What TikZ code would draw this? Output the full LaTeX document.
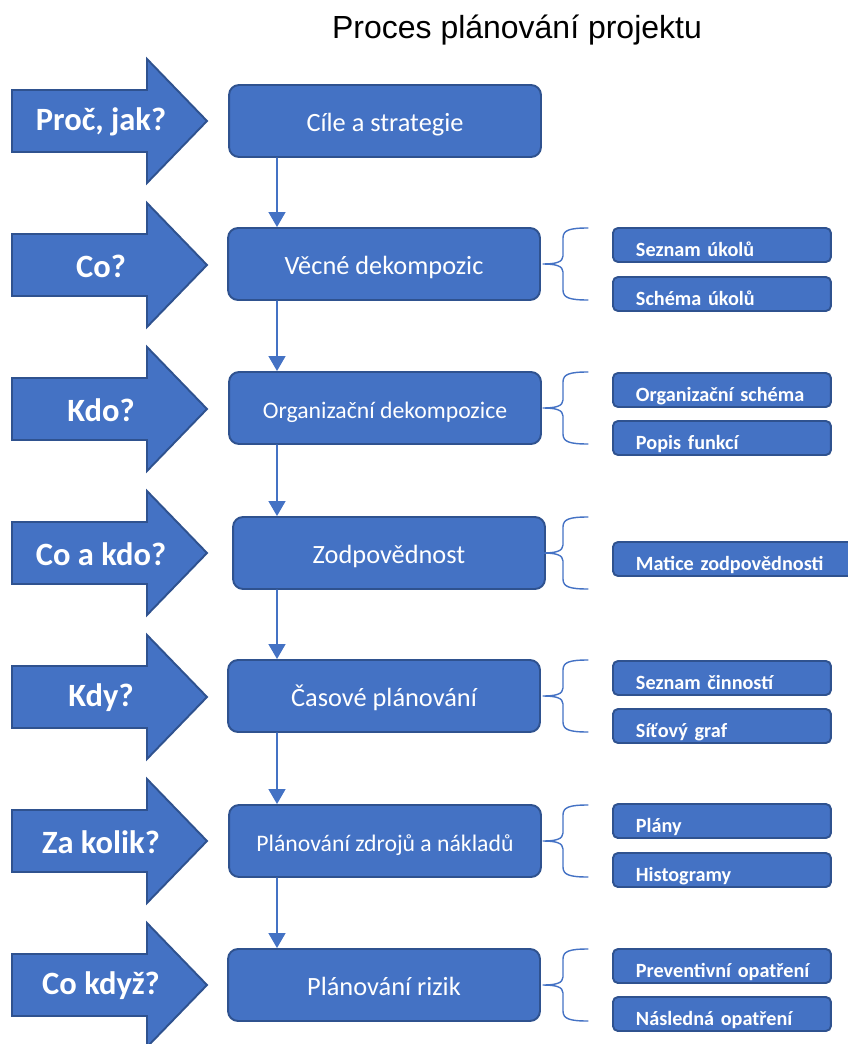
\documentclass[tikz,border=0pt]{standalone}
\usepackage{fontspec}
\setmainfont{Carlito}
\newfontfamily\titlefont{Liberation Sans}
\usepackage{xcolor}
\usetikzlibrary{arrows.meta}
\definecolor{ofblue}{HTML}{4472C4}
\definecolor{ofdark}{HTML}{2F528F}
\tikzset{
  every picture/.style={line join=round, line cap=round, >=Stealth},
  bigarrow/.style={fill=ofblue, draw=ofdark, line width=1.1pt, line join=miter},
  qtext/.style={text=white, font=\fontsize{18.5}{22}\selectfont\bfseries},
  mainbox/.style={draw=ofdark, fill=ofblue, line width=1.1pt, rounded corners=0.2cm,
    minimum width=6.24cm, minimum height=1.44cm, text=white, text height=12.5pt, text depth=0pt},
  subbox/.style={draw=ofdark, fill=ofblue, line width=1.1pt, rounded corners=0.1cm,
    minimum height=0.68cm, inner xsep=0.46cm, inner ysep=0pt, text width=3.44cm,
    align=left, text=white, text height=13.6pt, text depth=0pt,
    font=\fontsize{11.5}{13}\selectfont\bfseries, anchor=west},
  link/.style={draw=ofblue, line width=0.8pt, -{Triangle[length=3mm,width=3.4mm]}},
  brace/.style={draw=ofblue, line width=0.8pt},
}

\begin{document}
\begin{tikzpicture}[x=0.02cm,y=-0.02cm]
\useasboundingbox (0,0) rectangle (848,1044);
\node[font=\titlefont\fontsize{18.2}{22}\selectfont] (title) at (517,30) {Proces plánování projektu};
% question arrows
\foreach \i/\y/\t in {1/121/{Proč, jak?},2/265/Co?,3/409/Kdo?,4/553/Co a kdo?,5/697/Kdy?,6/841/Za kolik?,7/985/Co když?}{
\draw[bigarrow](12,\y-31)--(147,\y-31)--(147,\y-62)--(207,\y)--(147,\y+62)--(147,\y+31)--(12,\y+31)--cycle;
\node[qtext] (q\i) at (101,\y+1) {\t};
}
% steps
\foreach \i/\x/\y/\fs/\t in {1/385/121/15/Cíle a strategie,2/384/264/15/Věcné dekompozic,
  3/385/408/13.5/Organizační dekompozice,4/389/553/15/Zodpovědnost,5/384/696/15/Časové plánování,
  6/385/841/13.5/Plánování zdrojů a nákladů,7/384/985/15/Plánování rizik}
  \node[mainbox, font=\fontsize{\fs}{18}\selectfont] (b\i) at (\x,\y) {\t};
\coordinate (ax) at (277,0);
\foreach \i/\j in {1/2,2/3,3/4,4/5,5/6,6/7}
  \draw[link] (b\i.south -| ax) -- (b\j.north -| ax);
% braces
\foreach \y in {264,408,553,696,841,985}
  \draw[brace](588,\y-36) .. controls (570,\y-36) and (563,\y-34) .. (563,\y-26)--(563,\y-8)
    .. controls (563,\y-2) and (556,\y) .. (543,\y)
    .. controls (556,\y) and (563,\y+2) .. (563,\y+8)--(563,\y+26)
    .. controls (563,\y+34) and (570,\y+36) .. (588,\y+36);
% outputs
\foreach \n/\y/\t in {s21/245/Seznam úkolů,s22/294/Schéma úkolů,s31/390/Organizační schéma,
  s32/438/Popis funkcí,s51/678/Seznam činností,s52/726/Síťový graf,s61/821/Plány,
  s62/870/Histogramy,s71/966/Preventivní opatření,s72/1014/Následná opatření}
  \node[subbox] (\n) at (612,\y) {\mbox{\t}};
\node[subbox, text width=3.88cm] (s41) at (612,559) {\mbox{Matice zodpovědnosti}};
\end{tikzpicture}
\end{document}
